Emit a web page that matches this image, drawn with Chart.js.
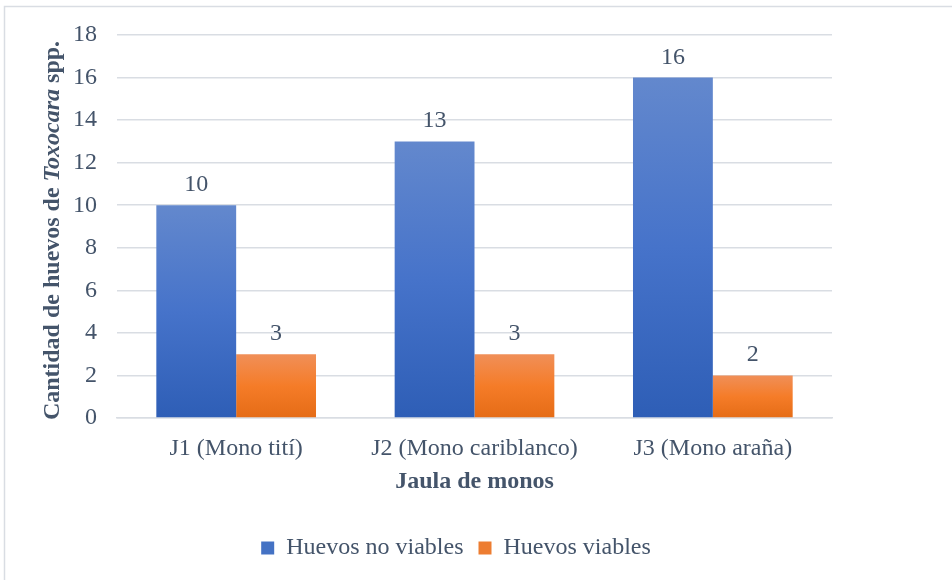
<!DOCTYPE html>
<html lang="es">
<head>
<meta charset="utf-8">
<title>Huevos de Toxocara spp. por jaula</title>
<script src="https://cdn.jsdelivr.net/npm/chart.js@4/dist/chart.umd.min.js"></script>
<style>
  html, body { margin: 0; padding: 0; background: #fff; }
  #wrap { position: relative; width: 952px; height: 580px; }
</style>
</head>
<body>
<div id="wrap"><canvas id="chart" width="952" height="580"></canvas></div>
<script>
  const jaulas = ["J1 (Mono tití)", "J2 (Mono cariblanco)", "J3 (Mono araña)"];
  const noViables = [10, 13, 16];
  const viables = [3, 3, 2];
  const yTicks = [0, 2, 4, 6, 8, 10, 12, 14, 16, 18];

  const TXT = "#44546a";
  const GRID = "#d9dde3";
  const FONT = "'Liberation Serif', 'Times New Roman', serif";
  const FS = 24;

  const azul = ["#6388cd", "#4673ca", "#2e5eb6"];
  const naranja = ["#f08f58", "#f57c28", "#e56c16"];

  // degradado por barra (claro arriba, oscuro abajo), como en Excel
  function barFill(stops, fallback) {
    return (ctx) => {
      const chart = ctx.chart;
      const y = chart.scales.y;
      if (!chart.chartArea || !y || ctx.parsed == null) return fallback;
      const top = y.getPixelForValue(ctx.parsed.y);
      const bot = y.getPixelForValue(0);
      if (!isFinite(top) || !isFinite(bot) || top === bot) return fallback;
      const g = chart.ctx.createLinearGradient(0, top, 0, bot);
      g.addColorStop(0, stops[0]);
      g.addColorStop(0.5, stops[1]);
      g.addColorStop(1, stops[2]);
      return g;
    };
  }

  const extras = {
    id: "extras",
    beforeDraw(chart) {
      const c = chart.ctx;
      c.save();
      c.fillStyle = "#fff";
      c.fillRect(0, 0, chart.width, chart.height);
      c.strokeStyle = GRID;
      c.lineWidth = 1.5;
      c.strokeRect(4.5, 6.5, chart.width + 10, chart.height + 10);
      c.restore();
    },
    afterDatasetsDraw(chart) {
      const c = chart.ctx;
      c.save();
      c.font = FS + "px " + FONT;
      c.fillStyle = TXT;
      c.textAlign = "center";
      c.textBaseline = "alphabetic";
      chart.data.datasets.forEach((ds, i) => {
        chart.getDatasetMeta(i).data.forEach((bar, j) => {
          c.fillText(String(ds.data[j]), bar.x, bar.y - 14);
        });
      });
      c.restore();
    },
    afterDraw(chart) {
      // título del eje Y con "Toxocara" en cursiva
      const c = chart.ctx;
      const parts = [
        ["Cantidad de huevos de ", "bold " + FS + "px " + FONT],
        ["Toxocara", "italic bold " + FS + "px " + FONT],
        [" spp.", "bold " + FS + "px " + FONT],
      ];
      let total = 0;
      parts.forEach((p) => { c.font = p[1]; total += c.measureText(p[0]).width; });
      const a = chart.chartArea;
      c.save();
      c.translate(53, (a.top + a.bottom) / 2 + 4);
      c.rotate(-Math.PI / 2);
      c.fillStyle = TXT;
      c.textBaseline = "middle";
      c.textAlign = "left";
      let x = -total / 2;
      parts.forEach((p) => {
        c.font = p[1];
        c.fillText(p[0], x, 0);
        x += c.measureText(p[0]).width;
      });
      c.restore();
    },
  };

  new Chart(document.getElementById("chart"), {
    type: "bar",
    data: {
      labels: jaulas,
      datasets: [
        { label: "Huevos no viables", data: noViables, backgroundColor: barFill(azul, "#4472c4"), legendColor: "#4472c4" },
        { label: "Huevos viables", data: viables, backgroundColor: barFill(naranja, "#ed7d31"), legendColor: "#ed7d31" },
      ],
    },
    options: {
      responsive: false,
      animation: false,
      devicePixelRatio: 1,
      layout: { padding: { top: 35, left: 4, right: 44, bottom: 10 } },
      datasets: { bar: { categoryPercentage: 0.67, barPercentage: 1 } },
      plugins: {
        tooltip: { enabled: false },
        legend: {
          position: "bottom",
          labels: {
            font: { family: FONT, size: FS },
            color: TXT,
            boxWidth: 13,
            boxHeight: 13,
            padding: 15,
            generateLabels(chart) {
              return chart.data.datasets.map((ds, i) => ({
                text: ds.label,
                fillStyle: ds.legendColor,
                strokeStyle: ds.legendColor,
                lineWidth: 0,
                fontColor: TXT,
                datasetIndex: i,
                hidden: false,
              }));
            },
          },
        },
      },
      scales: {
        x: {
          grid: { display: false, drawTicks: false },
          border: { display: true, color: GRID, width: 1.5 },
          ticks: { color: TXT, font: { family: FONT, size: FS }, padding: 16 },
          title: {
            display: true,
            text: "Jaula de monos",
            color: TXT,
            font: { family: FONT, size: FS, weight: "bold" },
            padding: { top: 6, bottom: 25 },
          },
          afterFit(s) { s.height = 103; },
        },
        y: {
          min: 0,
          max: 18,
          afterBuildTicks(s) { s.ticks = yTicks.map((v) => ({ value: v })); },
          grid: { color: GRID, lineWidth: 1.5, drawTicks: false },
          border: { display: false },
          ticks: { color: TXT, font: { family: FONT, size: FS }, padding: 20 },
          afterFit(s) { s.width = 113; },
        },
        yR: {
          position: "right",
          display: true,
          grid: { display: false, drawTicks: false },
          border: { display: false },
          ticks: { display: false },
          afterFit(s) { s.width = 76; },
        },
      },
    },
    plugins: [extras],
  });
</script>
</body>
</html>
